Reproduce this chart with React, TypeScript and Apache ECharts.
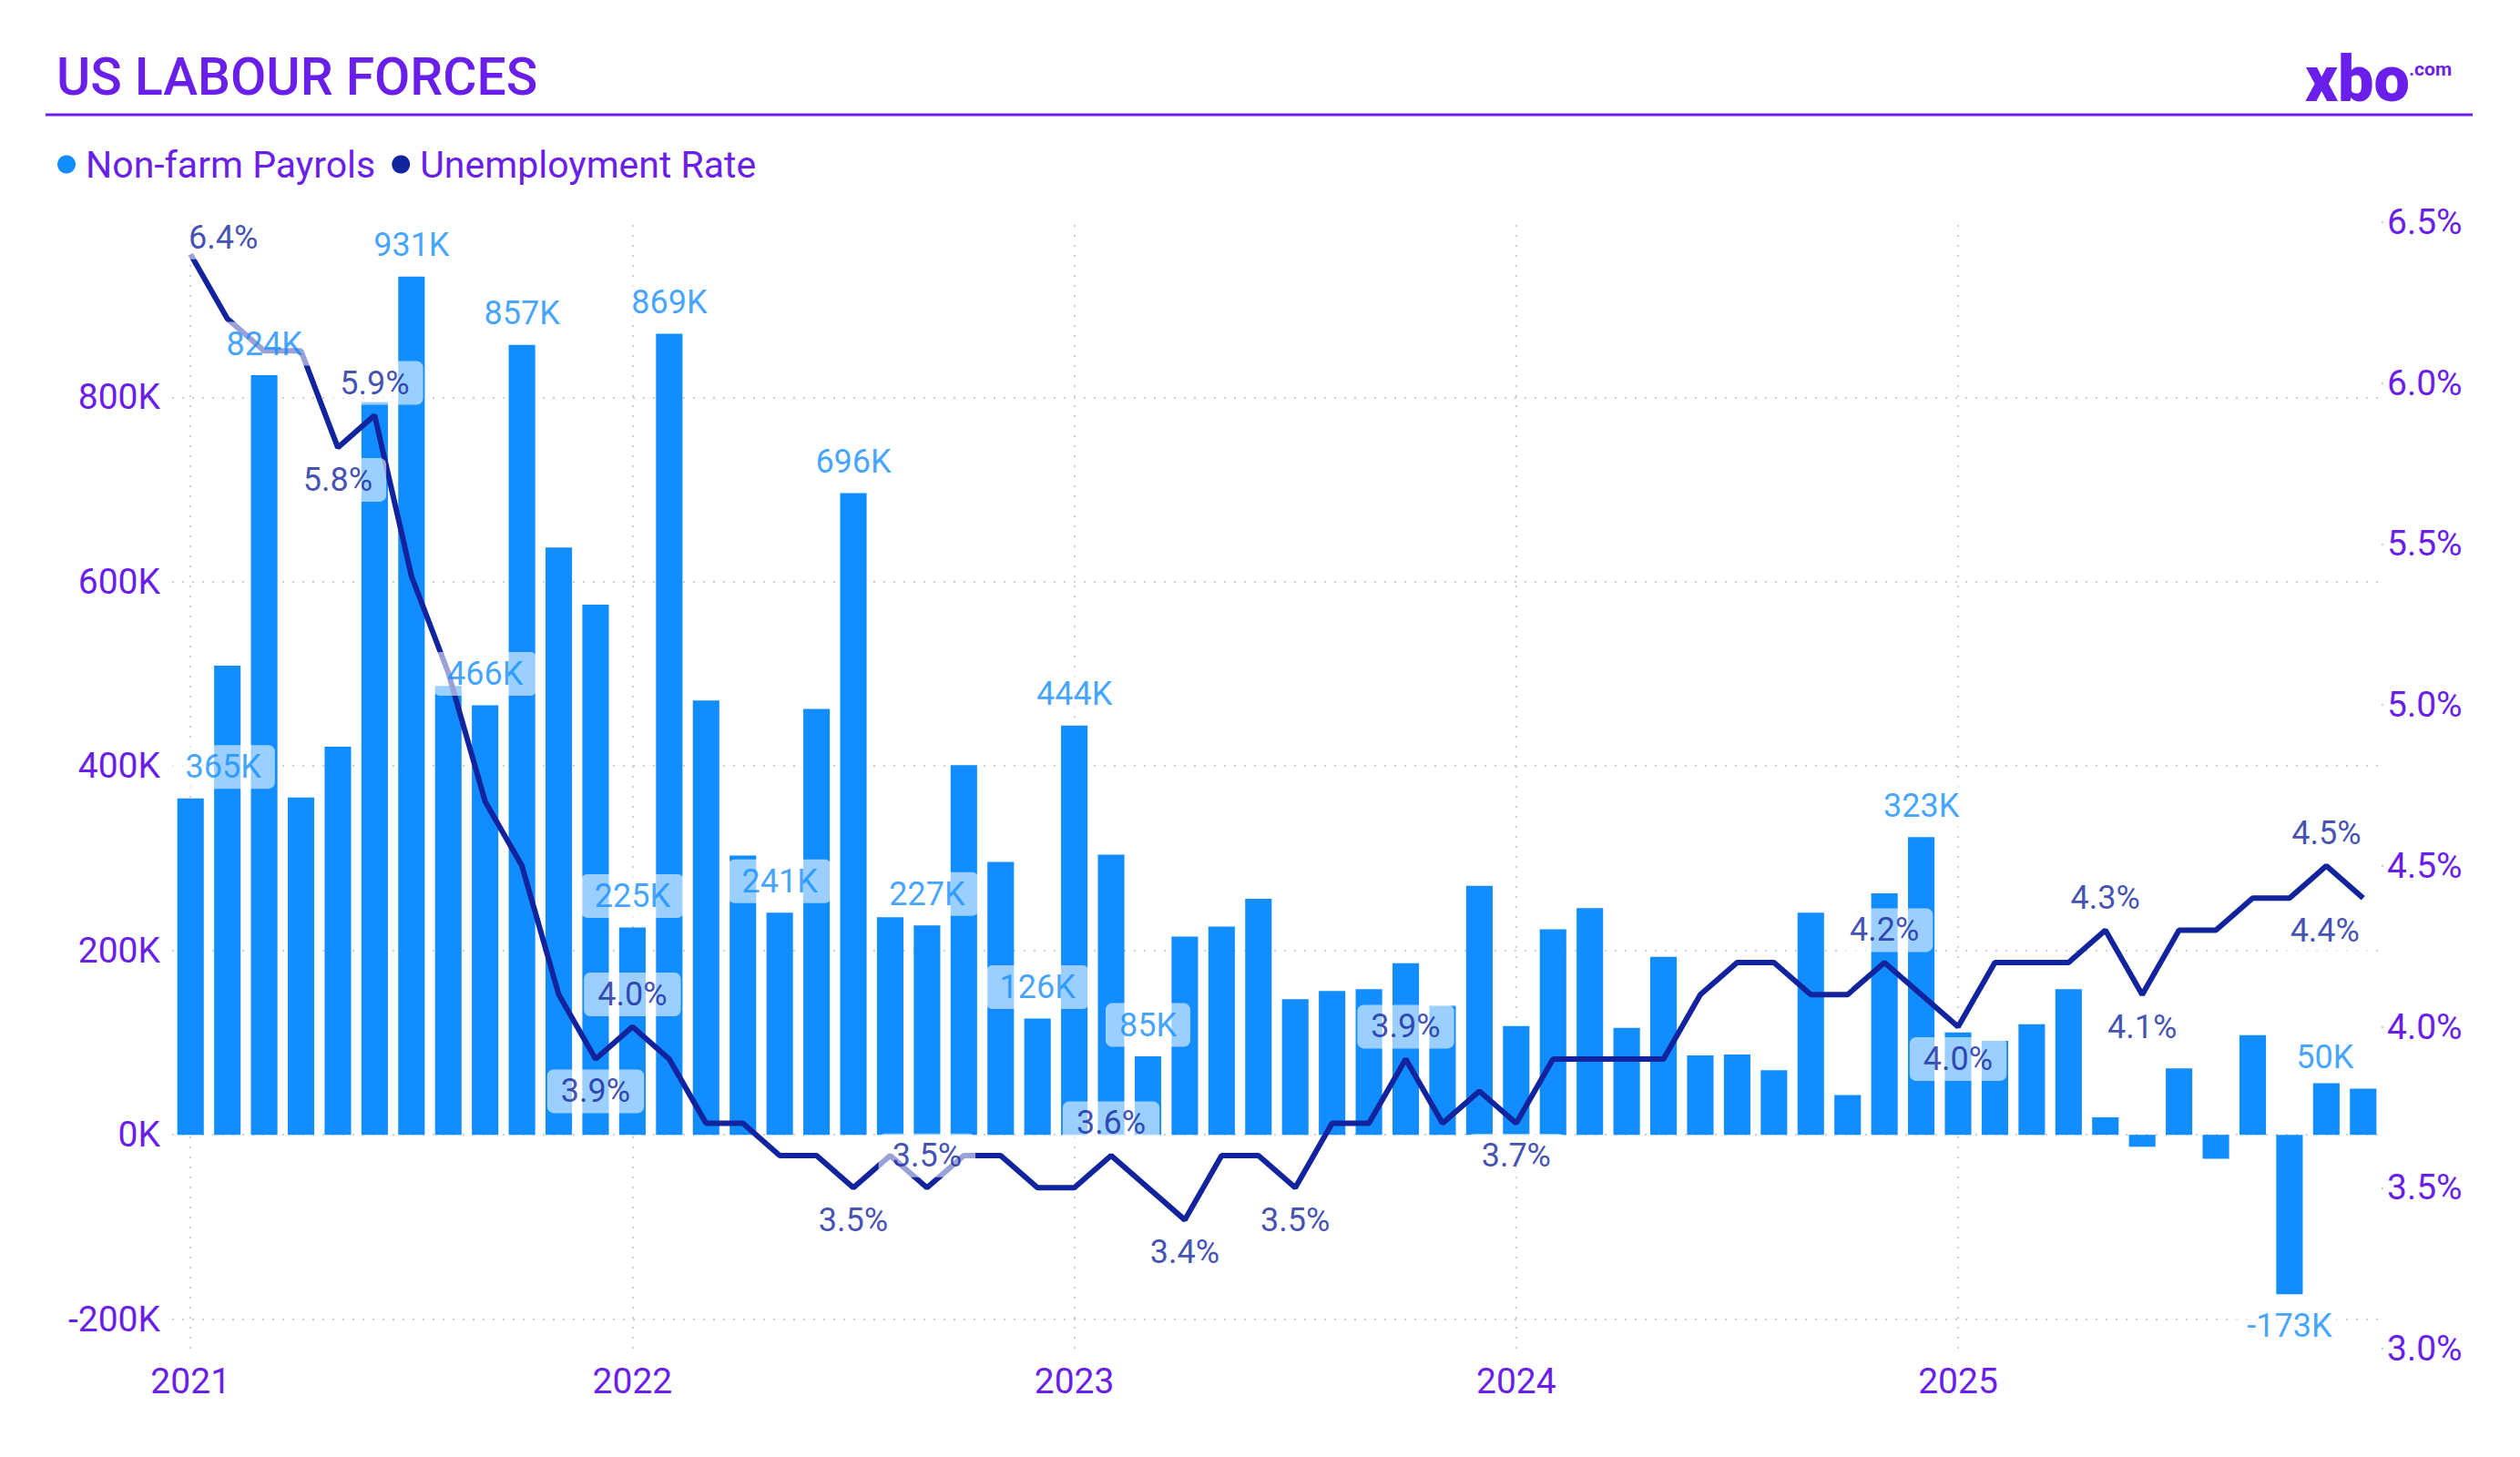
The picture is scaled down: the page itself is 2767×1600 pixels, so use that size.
import React, { useEffect, useRef } from "react";
import * as echarts from "echarts";

// ---------- data ----------
const MONTHS = [
  "2021-01", "2021-02", "2021-03", "2021-04", "2021-05", "2021-06", "2021-07", "2021-08", "2021-09", "2021-10", "2021-11", "2021-12",
  "2022-01", "2022-02", "2022-03", "2022-04", "2022-05", "2022-06", "2022-07", "2022-08", "2022-09", "2022-10", "2022-11", "2022-12",
  "2023-01", "2023-02", "2023-03", "2023-04", "2023-05", "2023-06", "2023-07", "2023-08", "2023-09", "2023-10", "2023-11", "2023-12",
  "2024-01", "2024-02", "2024-03", "2024-04", "2024-05", "2024-06", "2024-07", "2024-08", "2024-09", "2024-10", "2024-11", "2024-12",
  "2025-01", "2025-02", "2025-03", "2025-04", "2025-05", "2025-06", "2025-07", "2025-08", "2025-09", "2025-10", "2025-11", "2025-12",
];

const YEAR_TICKS = ["2021", "2022", "2023", "2024", "2025"];

// Non-farm payrolls, thousands
const PAYROLLS_K = [
  365, 509, 824, 366, 421, 795, 931, 487, 466, 857, 637, 575,
  225, 869, 471, 303, 241, 462, 696, 236, 227, 401, 296, 126,
  444, 304, 85, 215, 226, 256, 147, 156, 158, 186, 140, 270,
  118, 223, 246, 116, 193, 86, 87, 70, 241, 43, 262, 323,
  111, 102, 120, 158, 19, -13, 72, -26, 108, -173, 56, 50,
];

// Unemployment rate, %
const UNEMPLOYMENT = [
  6.4, 6.2, 6.1, 6.1, 5.8, 5.9, 5.4, 5.1, 4.7, 4.5, 4.1, 3.9,
  4.0, 3.9, 3.7, 3.7, 3.6, 3.6, 3.5, 3.6, 3.5, 3.6, 3.6, 3.5,
  3.5, 3.6, 3.5, 3.4, 3.6, 3.6, 3.5, 3.7, 3.7, 3.9, 3.7, 3.8,
  3.7, 3.9, 3.9, 3.9, 3.9, 4.1, 4.2, 4.2, 4.1, 4.1, 4.2, 4.1,
  4.0, 4.2, 4.2, 4.2, 4.3, 4.1, 4.3, 4.3, 4.4, 4.4, 4.5, 4.4,
];

// which points carry a data label
const PAYROLL_LABELED = [0, 2, 6, 8, 9, 12, 13, 16, 18, 20, 23, 24, 26, 47, 57, 59];
const RATE_LABEL_ABOVE = [0, 5, 12, 20, 25, 33, 46, 52, 58];
const RATE_LABEL_BELOW = [4, 11, 18, 27, 30, 36, 48, 53, 59];

// axis bounds
const LEFT_MIN = -232000;
const LEFT_MAX = 990000;
const LEFT_STEP = 200000;
const RIGHT_MIN = 3.0;
const RIGHT_MAX = 6.5;
const RIGHT_STEP = 0.5;

// ---------- styles ----------
const PURPLE = "#6A1EE9";
const BAR_BLUE = "#118DFF";
const LINE_NAVY = "#12239E";
const GRID_GREY = "#cfcfcf";
const FONT = 'Roboto, "Noto Sans", "DejaVu Sans", sans-serif';

export default function App() {
  const ref = useRef<HTMLDivElement>(null);

  useEffect(() => {
    if (!ref.current) return;
    const chart = echarts.init(ref.current, null, { renderer: "svg" });

    const lastIdx = MONTHS.length - 1;
    // labels at the plot edges are pushed back inside the plot area
    const edgeShiftX = (i: number) => (i === 0 ? 36 : i === lastIdx ? -42 : 0);

    const labelBox = {
      backgroundColor: "rgba(255,255,255,0.72)",
      borderRadius: 7,
      padding: [6, 15],
      fontSize: 36,
      fontFamily: FONT,
    };

    const barLabelData = PAYROLL_LABELED.map((i) => ({
      value: [i, PAYROLLS_K[i] * 1000],
      label: {
        position: PAYROLLS_K[i] < 0 ? "bottom" : "top",
        offset: [edgeShiftX(i), 0],
      },
    }));

    const rateLabelData = [
      ...RATE_LABEL_ABOVE.map((i) => ({
        value: [i, UNEMPLOYMENT[i]],
        label: { position: "top", offset: [edgeShiftX(i), i === 0 ? 17 : 0] },
      })),
      ...RATE_LABEL_BELOW.map((i) => ({
        value: [i, UNEMPLOYMENT[i]],
        label: { position: "bottom", offset: [edgeShiftX(i), 0] },
      })),
    ];

    const dotted = { color: GRID_GREY, type: [2, 9], width: 2 };

    chart.setOption({
      animation: false,
      textStyle: { fontFamily: FONT },
      grid: { left: 189, right: 152, top: 244, bottom: 119 },
      legend: {
        data: ["Non-farm Payrols", "Unemployment Rate"],
        left: 58,
        top: 155,
        icon: "circle",
        itemWidth: 32,
        itemHeight: 20,
        itemGap: 18,
        selectedMode: false,
        textStyle: { color: PURPLE, fontSize: 41, fontFamily: FONT },
      },
      graphic: [
        {
          type: "text",
          x: 62,
          y: 84,
          style: {
            text: "US LABOUR FORCES",
            fill: PURPLE,
            fontSize: 57,
            fontWeight: 500,
            fontFamily: FONT,
            verticalAlign: "middle",
          },
        },
        {
          type: "line",
          shape: { x1: 50, y1: 126, x2: 2715, y2: 126 },
          style: { stroke: PURPLE, lineWidth: 3 },
        },
        {
          type: "text",
          x: 2531,
          y: 87,
          style: {
            text: "xbo",
            fill: PURPLE,
            fontSize: 70,
            fontWeight: 900,
            fontFamily: FONT,
            verticalAlign: "middle",
          },
        },
        {
          type: "text",
          x: 2645,
          y: 76,
          style: {
            text: ".com",
            fill: PURPLE,
            fontSize: 21,
            fontWeight: 700,
            fontFamily: FONT,
            verticalAlign: "middle",
          },
        },
      ],
      xAxis: {
        type: "category",
        data: MONTHS,
        boundaryGap: true,
        axisLine: { show: false },
        axisTick: { show: false },
        splitLine: { show: false },
        axisLabel: {
          color: PURPLE,
          fontSize: 39,
          margin: 16,
          interval: (_i: number, v: string) =>
            v.endsWith("-01") && YEAR_TICKS.includes(v.slice(0, 4)),
          formatter: (v: string) => v.slice(0, 4),
        },
      },
      yAxis: [
        {
          type: "value",
          position: "left",
          min: LEFT_MIN,
          max: LEFT_MAX,
          minInterval: LEFT_STEP,
          maxInterval: LEFT_STEP,
          axisLine: { show: false },
          axisTick: { show: false },
          axisLabel: {
            color: PURPLE,
            fontSize: 39,
            margin: 13,
            showMinLabel: false,
            showMaxLabel: false,
            formatter: (v: number) =>
              Math.abs(v % LEFT_STEP) < 1 ? `${Math.round(v / 1000)}K` : "",
          },
          splitLine: {
            show: true,
            showMinLine: false,
            showMaxLine: false,
            lineStyle: dotted,
          },
        },
        {
          type: "value",
          position: "right",
          min: RIGHT_MIN,
          max: RIGHT_MAX,
          interval: RIGHT_STEP,
          axisLine: { show: false },
          axisTick: { show: true, length: 10, lineStyle: dotted },
          splitLine: { show: false },
          axisLabel: {
            color: PURPLE,
            fontSize: 39,
            margin: 6,
            formatter: (v: number) => `${v.toFixed(1)}%`,
          },
        },
      ],
      series: [
        {
          name: "Non-farm Payrols",
          type: "bar",
          yAxisIndex: 0,
          z: 2,
          barWidth: "72%",
          itemStyle: { color: BAR_BLUE },
          emphasis: { disabled: true },
          data: PAYROLLS_K.map((v) => v * 1000),
          markLine: {
            silent: true,
            z: 1,
            symbol: ["none", "none"],
            label: { show: false },
            lineStyle: dotted,
            data: YEAR_TICKS.map((y) => ({ xAxis: `${y}-01` })),
          },
        },
        {
          name: "Unemployment Rate",
          type: "line",
          yAxisIndex: 1,
          z: 3,
          symbol: "none",
          lineStyle: { color: LINE_NAVY, width: 6 },
          itemStyle: { color: LINE_NAVY },
          emphasis: { disabled: true },
          data: UNEMPLOYMENT,
        },
        {
          name: "payrollLabels",
          type: "scatter",
          yAxisIndex: 0,
          z: 5,
          symbolSize: 1,
          silent: true,
          itemStyle: { color: "rgba(0,0,0,0)" },
          label: {
            show: true,
            distance: 10,
            color: BAR_BLUE,
            ...labelBox,
            formatter: (p: any) => `${Math.round(p.value[1] / 1000)}K`,
          },
          data: barLabelData,
        },
        {
          name: "rateLabels",
          type: "scatter",
          yAxisIndex: 1,
          z: 6,
          symbolSize: 1,
          silent: true,
          itemStyle: { color: "rgba(0,0,0,0)" },
          label: {
            show: true,
            distance: 11,
            color: LINE_NAVY,
            ...labelBox,
            formatter: (p: any) => `${p.value[1].toFixed(1)}%`,
          },
          data: rateLabelData,
        },
      ],
    });

    return () => chart.dispose();
  }, []);

  return (
    <div
      ref={ref}
      style={{ position: "absolute", left: 0, top: 0, width: 2767, height: 1600, background: "#ffffff" }}
    />
  );
}
